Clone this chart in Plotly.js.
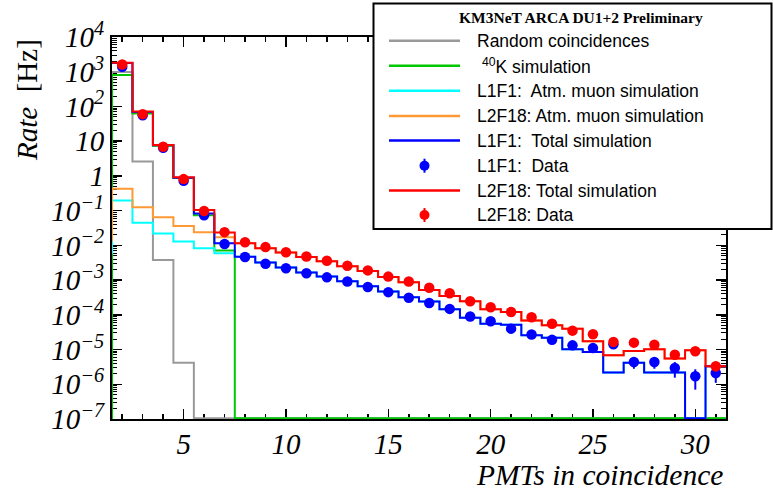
<!DOCTYPE html>
<html>
<head>
<meta charset="utf-8">
<script src="https://cdn.plot.ly/plotly-3.0.1.min.js"></script>
<style>html,body{margin:0;padding:0;background:#fff;}#chart{width:773px;height:492px;}</style>
</head>
<body>
<div id="chart"></div>
<script>
// Number of PMTs in coincidence (bin centres); bin 1 lies just left of the visible range
const pmts = [1,2,3,4,5,6,7,8,9,10,11,12,13,14,15,16,17,18,19,20,21,22,23,24,25,26,27,28,29,30,31];

// Random coincidences [Hz]
const randomCoinc = [0, 980, 2.6, 0.0038, 4.2e-6, 0,0,0,0,0,0,0,0,0,0,0,0,0,0,0,0,0,0,0,0,0,0,0,0,0,0];

// 40K simulation [Hz]
const k40Sim = [0, 810, 63, 7.4, 0.87, 0.074, 0.0071, 0,0,0,0,0,0,0,0,0,0,0,0,0,0,0,0,0,0,0,0,0,0,0,0];

// L1F1: atmospheric muon simulation [Hz]
const l1f1Muon = [0.006, 0.195, 0.045, 0.022, 0.013, 0.0083, 0.0059,
  4.7e-3, 3.2e-3, 2.3e-3, 1.66e-3, 1.26e-3, 9.3e-4, 6.6e-4, 4.7e-4, 3.2e-4, 2.4e-4, 1.45e-4,
  8.3e-5, 5.5e-5, 5.2e-5, 2.6e-5, 2.2e-5, 1.02e-5, 8.5e-6, 2.2e-6, 4.2e-6, 2.2e-6, 2.2e-6, 0, 3.3e-6];

// L2F18: atmospheric muon simulation [Hz]
const l2f18Muon = [0.014, 0.43, 0.125, 0.065, 0.036, 0.024, 0.017,
  0.0115, 8.3e-3, 6.2e-3, 4.6e-3, 3.5e-3, 2.5e-3, 1.82e-3, 1.23e-3, 8.7e-4, 5.2e-4, 3.5e-4,
  2.45e-4, 1.45e-4, 1.2e-4, 6.9e-5, 5.0e-5, 4.0e-5, 1.74e-5, 6.8e-6, 9.1e-6, 1.02e-5, 5.5e-6, 9.5e-6, 3.3e-6];

// L1F1: total simulation [Hz]
const l1f1Total = [null, 1780, 69, 7.6, 0.89, 0.083, 0.0115,
  4.7e-3, 3.2e-3, 2.3e-3, 1.66e-3, 1.26e-3, 9.3e-4, 6.6e-4, 4.7e-4, 3.2e-4, 2.4e-4, 1.45e-4,
  8.3e-5, 5.5e-5, 5.2e-5, 2.6e-5, 2.2e-5, 1.02e-5, 8.5e-6, 2.2e-6, 4.2e-6, 2.2e-6, 2.2e-6, 0, 3.3e-6];

// L1F1: data [Hz] and errors
const l1f1Data = [null, 1380, 56, 6.5, 0.72, 0.074, 0.011,
  4.6e-3, 2.95e-3, 2.19e-3, 1.58e-3, 1.2e-3, 9.1e-4, 6.3e-4, 4.5e-4, 3.1e-4, 2.19e-4, 1.48e-4,
  8.9e-5, 6.5e-5, 4.0e-5, 2.7e-5, 1.9e-5, 1.32e-5, 1.1e-5, 1.41e-5, 4.4e-6, 4.4e-6, 2.95e-6, 1.7e-6, 2.1e-6];
const l1f1Err = [null, 5, 0.5, 0.05, 0.01, 0.001, 3e-4,
  1e-4, 7e-5, 5e-5, 4e-5, 3e-5, 2.5e-5, 2e-5, 1.6e-5, 1.4e-5, 1.2e-5, 1e-5,
  8e-6, 7e-6, 6e-6, 5e-6, 4e-6, 3e-6, 2.7e-6, 2.5e-6, 1.6e-6, 1.6e-6, 1.4e-6, 1.0e-6, 1.0e-6];

// L2F18: total simulation [Hz]
const l2f18Total = [null, 1820, 71, 7.8, 0.91, 0.105, 0.0234,
  0.0115, 8.3e-3, 6.2e-3, 4.6e-3, 3.5e-3, 2.5e-3, 1.82e-3, 1.23e-3, 8.7e-4, 5.2e-4, 3.5e-4,
  2.45e-4, 1.45e-4, 1.2e-4, 6.9e-5, 5.0e-5, 4.0e-5, 1.74e-5, 6.8e-6, 9.1e-6, 1.02e-5, 5.5e-6, 9.5e-6, 3.3e-6];

// L2F18: data [Hz] and errors
const l2f18Data = [null, 1620, 60, 6.9, 0.81, 0.098, 0.024,
  0.0123, 8.9e-3, 6.3e-3, 4.8e-3, 3.6e-3, 2.6e-3, 1.9e-3, 1.26e-3, 9.1e-4, 6.0e-4, 4.2e-4,
  2.45e-4, 1.66e-4, 1.2e-4, 8.5e-5, 5.5e-5, 3.5e-5, 2.75e-5, 1.66e-5, 1.58e-5, 1.38e-5, 7.1e-6, 8.9e-6, 3.3e-6];
const l2f18Err = [null, 5, 0.5, 0.05, 0.01, 0.001, 5e-4,
  2e-4, 1.5e-4, 1e-4, 8e-5, 6e-5, 5e-5, 4e-5, 3e-5, 2.5e-5, 2e-5, 1.6e-5,
  1.2e-5, 1e-5, 8e-6, 7e-6, 6e-6, 5e-6, 4e-6, 3e-6, 3e-6, 2.8e-6, 1.6e-6, 1.8e-6, 1.0e-6];

// Axis ticks
const xTickVals = [5, 10, 15, 20, 25, 30];
const yTickVals = [1e-7, 1e-6, 1e-5, 1e-4, 1e-3, 1e-2, 1e-1, 1, 10, 1e2, 1e3, 1e4];
const yTickText = ['10<sup>\u22127</sup>', '10<sup>\u22126</sup>', '10<sup>\u22125</sup>', '10<sup>\u22124</sup>',
  '10<sup>\u22123</sup>', '10<sup>\u22122</sup>', '10<sup>\u22121</sup>', '1', '10',
  '10<sup>2</sup>', '10<sup>3</sup>', '10<sup>4</sup>'];

// Legend entries
const legendNames = ['Random coincidences', ' <sup>40</sup>K simulation', 'L1F1:  Atm. muon simulation',
  'L2F18: Atm. muon simulation', 'L1F1:  Total simulation', 'L1F1:  Data', 'L2F18: Total simulation', 'L2F18: Data'];
const legendKinds = ['line', 'line', 'line', 'line', 'line', 'point', 'line', 'point'];
const colors = ['#999999', '#00c800', '#00ffff', '#ff9933', '#0000ff', '#0000ff', '#ff0000', '#ff0000'];

// ---------- drawing ----------
const Y_MIN = 1e-7, Y_MAX = 1e4;
const ZERO_LEVEL = 1.05e-7; // ROOT draws empty bins on the frame bottom

function stepTrace(vals, color) {
  const xs = [], ys = [];
  for (let i = 0; i < pmts.length; i++) {
    if (vals[i] === null) continue;
    xs.push(pmts[i] - 0.5);
    ys.push(vals[i] === 0 ? ZERO_LEVEL : vals[i]);
  }
  xs.push(pmts[pmts.length - 1] + 0.5);
  ys.push(ys[ys.length - 1]);
  return {x: xs, y: ys, type: 'scatter', mode: 'lines', line: {shape: 'hv', color: color, width: 2},
          hoverinfo: 'skip', showlegend: false};
}
function pointTrace(vals, errs, color) {
  return {x: pmts, y: vals, type: 'scatter', mode: 'markers',
          marker: {symbol: 'circle', size: 10.5, color: color},
          error_y: {type: 'data', array: errs, visible: true, color: color, thickness: 2, width: 0},
          showlegend: false};
}

const traces = [
  stepTrace(randomCoinc, colors[0]),
  stepTrace(k40Sim, colors[1]),
  stepTrace(l1f1Muon, colors[2]),
  stepTrace(l2f18Muon, colors[3]),
  stepTrace(l1f1Total, colors[4]),
  pointTrace(l1f1Data, l1f1Err, colors[5]),
  stepTrace(l2f18Total, colors[6]),
  pointTrace(l2f18Data, l2f18Err, colors[7])
];

// plot-area geometry in pixels
const W = 773, H = 492, L = 112, R = 726, T = 37, B = 419;
const px = v => (v - L) / (R - L);
const py = v => (B - v) / (B - T);

const shapes = [];
const annotations = [];

// legend box
shapes.push({type: 'rect', xref: 'paper', yref: 'paper', x0: px(373.5), x1: px(771.5), y0: py(229), y1: py(3.5),
  line: {color: 'black', width: 2}, fillcolor: 'white', layer: 'above'});
annotations.push({xref: 'paper', yref: 'paper', x: px(580.5), y: py(17.5), xanchor: 'center', yanchor: 'middle',
  text: '<b>KM3NeT ARCA DU1+2 Preliminary</b>', showarrow: false,
  font: {family: 'Liberation Serif', size: 15.5, color: 'black'}});
const rowY = [40.7, 65.7, 90.7, 116, 140.5, 165.7, 190.5, 215];
legendNames.forEach((name, i) => {
  const yy = rowY[i];
  if (legendKinds[i] === 'line') {
    shapes.push({type: 'line', xref: 'paper', yref: 'paper', x0: px(389), x1: px(460), y0: py(yy), y1: py(yy),
      line: {color: colors[i], width: 2.5}, layer: 'above'});
  } else {
    shapes.push({type: 'line', xref: 'paper', yref: 'paper', x0: px(424.5), x1: px(424.5), y0: py(yy - 7), y1: py(yy + 7),
      line: {color: colors[i], width: 2}, layer: 'above'});
    shapes.push({type: 'circle', xref: 'paper', yref: 'paper', x0: px(419.5), x1: px(429.5), y0: py(yy + 5), y1: py(yy - 5),
      line: {color: colors[i], width: 0}, fillcolor: colors[i], layer: 'above'});
  }
  annotations.push({xref: 'paper', yref: 'paper', x: px(475), y: py(yy), xanchor: 'left', yanchor: 'middle',
    text: name, showarrow: false, font: {family: 'Liberation Sans', size: 17.5, color: 'black'}});
});

// axis titles (ROOT style: at the axis end)
annotations.push({xref: 'paper', yref: 'paper', x: px(724), y: py(492), xanchor: 'right', yanchor: 'bottom',
  text: 'PMTs in coincidence', showarrow: false, borderpad: 0,
  font: {family: 'Liberation Serif', size: 29.5, style: 'italic', color: 'black'}});
annotations.push({xref: 'paper', yref: 'paper', x: px(27), y: py(37), xanchor: 'center', yanchor: 'top',
  textangle: -90, text: '<i>Rate</i>\u00a0 [Hz]', showarrow: false,
  font: {family: 'Liberation Serif', size: 29, color: 'black'}});

const tickFont = {family: 'Liberation Serif', size: 29, style: 'italic', color: 'black'};

const layout = {
  width: W, height: H,
  margin: {l: L, r: W - R, t: T, b: H - B, pad: 0},
  paper_bgcolor: 'white', plot_bgcolor: 'white',
  showlegend: false,
  xaxis: {
    type: 'linear', range: [1.5, 31.5], showgrid: false, zeroline: false,
    showline: true, linewidth: 2, linecolor: 'black', mirror: 'ticks',
    ticks: 'inside', ticklen: 10, tickwidth: 1.5, tickcolor: 'black',
    tickmode: 'array', tickvals: xTickVals, ticktext: xTickVals.map(String),
    tickfont: tickFont, ticklabelstandoff: -2,
    minor: {ticks: 'inside', ticklen: 5, tickwidth: 1.5, tickcolor: 'black', dtick: 1, tick0: 0, showgrid: false},
    layer: 'below traces'
  },
  yaxis: {
    type: 'log', range: [Math.log10(Y_MIN), Math.log10(Y_MAX)], showgrid: false, zeroline: false,
    showline: true, linewidth: 2, linecolor: 'black', mirror: 'ticks',
    ticks: 'inside', ticklen: 10, tickwidth: 1.5, tickcolor: 'black',
    tickmode: 'array', tickvals: yTickVals, ticktext: yTickText,
    tickfont: tickFont,
    minor: {ticks: 'inside', ticklen: 5, tickwidth: 1, tickcolor: 'black', dtick: 'D1', showgrid: false},
    layer: 'below traces'
  },
  shapes: shapes,
  annotations: annotations
};

Plotly.newPlot('chart', traces, layout, {displayModeBar: false, staticPlot: true});
</script>
</body>
</html>
